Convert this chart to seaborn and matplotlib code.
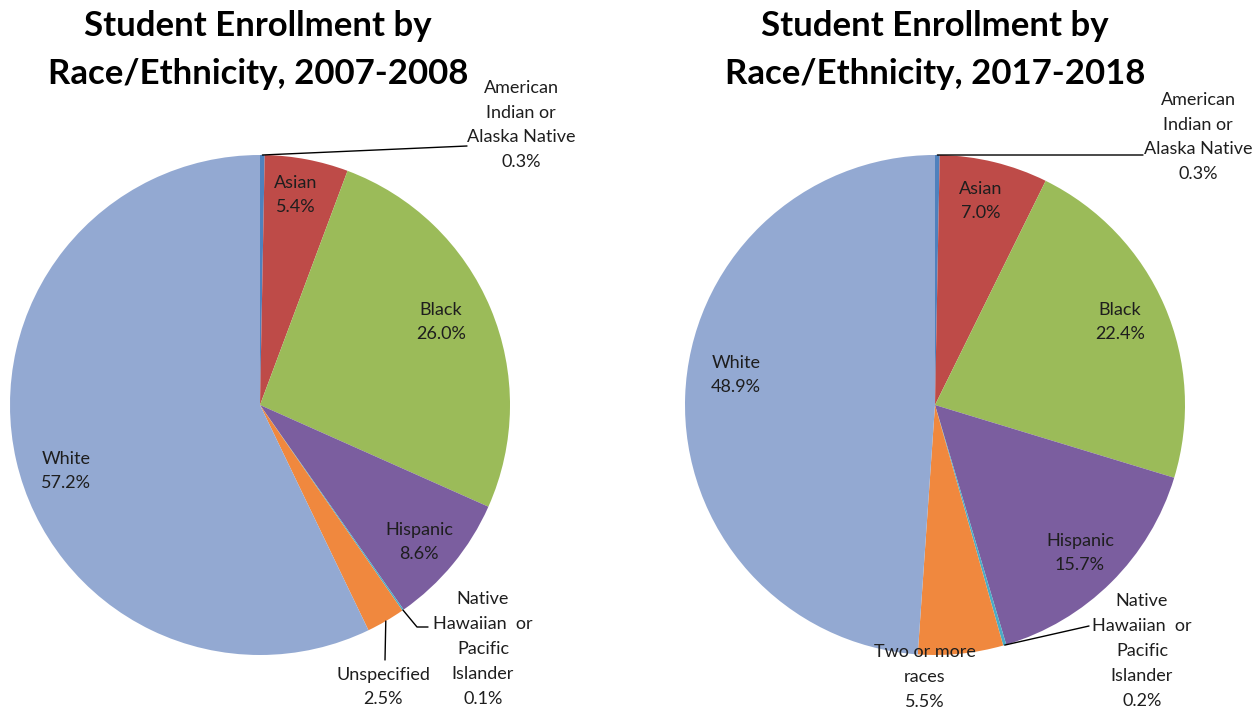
import matplotlib
matplotlib.use("Agg")
import matplotlib.pyplot as plt
import numpy as np
import seaborn as sns

# Enrollment shares (percent), in wedge order clockwise from 12 o'clock
groups_0708 = ["American Indian or Alaska Native", "Asian", "Black", "Hispanic",
               "Native Hawaiian or Pacific Islander", "Unspecified", "White"]
share_0708 = [0.3, 5.4, 26.0, 8.6, 0.1, 2.5, 57.2]

groups_1718 = ["American Indian or Alaska Native", "Asian", "Black", "Hispanic",
               "Native Hawaiian or Pacific Islander", "Two or more races", "White"]
share_1718 = [0.3, 7.0, 22.4, 15.7, 0.2, 5.5, 48.9]

# Label wording as printed beside each wedge
names_0708 = ["American\nIndian or\nAlaska Native", "Asian", "Black", "Hispanic",
              "Native\nHawaiian  or\nPacific\nIslander", "Unspecified", "White"]
names_1718 = ["American\nIndian or\nAlaska Native", "Asian", "Black", "Hispanic",
              "Native\nHawaiian  or\nPacific\nIslander", "Two or more\nraces", "White"]

titles = ["Student Enrollment by\nRace/Ethnicity, 2007-2008",
          "Student Enrollment by\nRace/Ethnicity, 2017-2018"]

colors = ["#4F81BD", "#BE4B48", "#9BBB59", "#7B5E9F", "#4BACC6", "#F0883E", "#93A9D2"]

sns.set_theme(style="white")
plt.rcParams["font.family"] = ["Lato", "DejaVu Sans"]

W, H = 1257, 709
fig = plt.figure(figsize=(W / 100, H / 100), dpi=100)
ax = fig.add_axes([0, 0, 1, 1])

RADIUS = 250
# layout in pixel space (origin top-left): pie centres, title centres, label centres
layout = [
    dict(center=(260, 405), title=(258, 50),
         labels=[(521, 125), (296, 195), (441, 322), (419, 542),
                 (483, 649), (383, 687), (66, 471)],
         leaders={0: [(467, 146)], 4: [(417, 627), (428, 627)], 5: [(385, 660)]}),
    dict(center=(935, 405), title=(935, 50),
         labels=[(1198, 137), (981, 201), (1120, 322), (1080, 553),
                 (1142, 651), (925, 677), (736, 375)],
         leaders={0: [(1143, 155)], 4: [(1089, 626)]}),
]

def fy(y):
    return H - y

for values, names, title, lay in zip([share_0708, share_1718],
                                     [names_0708, names_1718], titles, layout):
    cx, cy = lay["center"]
    wedges, _ = ax.pie(values, colors=colors, startangle=90, counterclock=False,
                       center=(cx, fy(cy)), radius=RADIUS,
                       wedgeprops=dict(linewidth=0))
    ax.text(lay["title"][0], fy(lay["title"][1]), title, ha="center", va="center",
            fontsize=25, fontweight="bold", color="black", linespacing=1.62)
    for i, (w, name, v) in enumerate(zip(wedges, names, values)):
        lx, ly = lay["labels"][i]
        ax.text(lx, fy(ly), f"{name}\n{v:.1f}%", ha="center", va="center",
                fontsize=13, color="#1e1e1e", linespacing=1.68)
        if i in lay["leaders"]:
            mid = np.deg2rad((w.theta1 + w.theta2) / 2)
            x0 = cx + RADIUS * np.cos(mid)
            y0 = fy(cy) + RADIUS * np.sin(mid)
            pts = [(x0, y0)] + [(px, fy(py)) for px, py in lay["leaders"][i]]
            xs, ys = zip(*pts)
            ax.plot(xs, ys, color="black", linewidth=1.0)

ax.set_xlim(0, W)
ax.set_ylim(0, H)
ax.set_aspect("auto")
ax.axis("off")
fig.savefig("out.png", dpi=100, facecolor="white")
